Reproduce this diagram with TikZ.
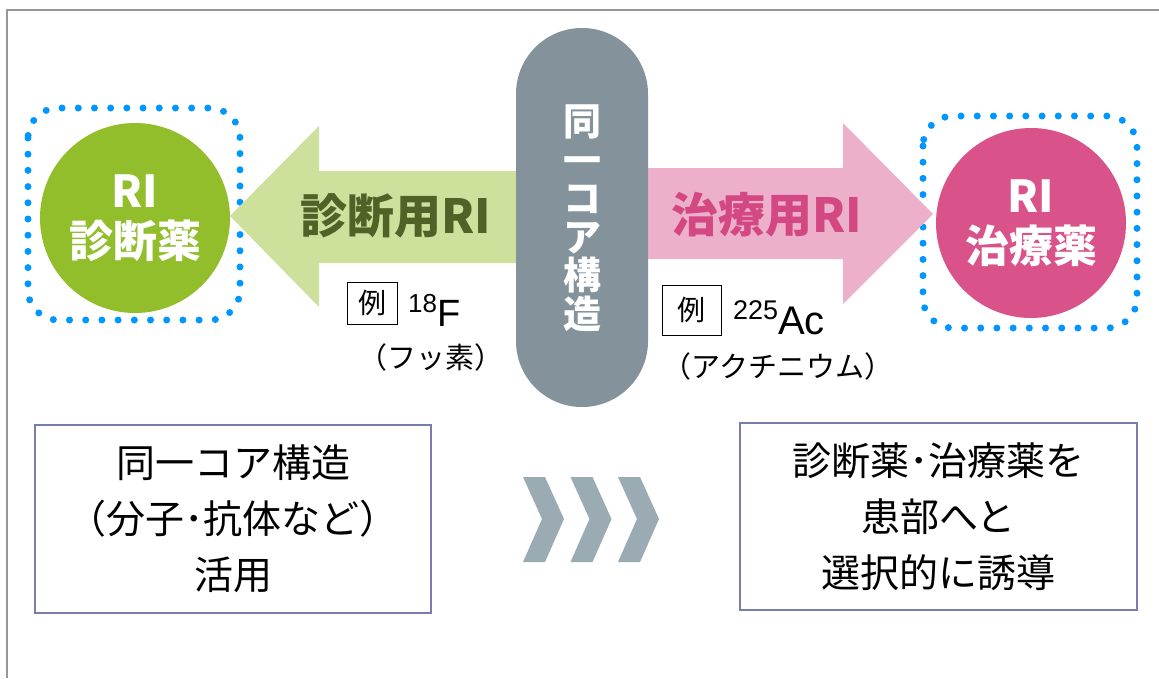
\documentclass[tikz,border=0pt]{standalone}
\usepackage{fontspec}
\setmainfont{Liberation Sans}
\newfontfamily\jp{Noto Sans CJK JP}
\definecolor{dotblue}{RGB}{0,150,255}
\definecolor{gcirc}{RGB}{146,190,44}
\definecolor{garrow}{RGB}{205,224,156}
\definecolor{gtext}{RGB}{79,98,40}
\definecolor{pcirc}{RGB}{218,82,138}
\definecolor{parrow}{RGB}{236,176,202}
\definecolor{ptext}{RGB}{212,72,130}
\definecolor{pillc}{RGB}{132,147,155}
\definecolor{chevc}{RGB}{154,171,179}
\definecolor{boxc}{RGB}{120,125,170}
\definecolor{framec}{RGB}{150,150,150}
\tikzset{
  dotframe/.style={draw=dotblue,line width=7pt,line cap=round,dash pattern=on 0pt off 16.2pt,rounded corners=30pt},
  bigcirc/.style={circle,minimum size=190pt,inner sep=0pt,text=white,font=\jp\bfseries\fontsize{44}{48}\selectfont,align=center},
  arrlabel/.style={font=\jp\bfseries\fontsize{47}{50}\selectfont},
  exbox/.style={draw=black,line width=1pt,minimum width=54pt,minimum height=44pt,inner sep=0pt,font=\jp\fontsize{28}{30}\selectfont},
  exnote/.style={font=\jp\fontsize{29}{31}\selectfont,inner sep=0pt},
  infobox/.style={draw=boxc,line width=1.5pt,inner sep=0pt,align=center,font=\jp\fontsize{39}{56}\selectfont},
  chev/.style={fill=chevc}
}
\begin{document}
\begin{tikzpicture}[x=1pt,y=-1pt]
\useasboundingbox (0,0) rectangle (1159,678);
\fill[white] (0,0) rectangle (1159,678);
\draw[framec,line width=1.2pt] (1159,10) -- (7,10) -- (7,678);
% dotted frames
\draw[dotframe] (28,108) rectangle (240,320);
\draw[dotframe] (923,116) rectangle (1137,328);
% arrows
\fill[garrow] (230,216) -- (319,126) -- (319,171) -- (540,171) -- (540,263) -- (319,263) -- (319,307) -- cycle;
\fill[parrow] (933,214) -- (843,123) -- (843,168) -- (630,168) -- (630,259) -- (843,259) -- (843,304) -- cycle;
% circles
\node[bigcirc,fill=gcirc] (diag) at (135,218) {RI\\[2pt]診断薬};
\node[bigcirc,fill=pcirc] (ther) at (1031,223) {RI\\[2pt]治療薬};
% pill
\fill[pillc,rounded corners=65.9pt] (516,28) rectangle (648,407);
\node[text=white,font=\jp\bfseries\fontsize{38}{38.5}\selectfont,align=center,inner sep=0pt] (core) at (582,218) {同\\一\\コ\\ア\\構\\造};
% arrow labels
\node[arrlabel,text=gtext] (dlab) at (396,216) {診断用RI};
\node[arrlabel,text=ptext] (tlab) at (767,215) {治療用RI};
% examples
\node[exbox,minimum width=50pt,minimum height=42pt] (ex1) at (372,303) {例};
\node[anchor=base west,inner sep=0pt,font=\fontsize{38}{40}\selectfont] (f18) at (408,326) {\raisebox{14pt}{\fontsize{26}{28}\selectfont 18}F};
\node[exnote] (fname) at (431,357) {（フッ素）};
\node[exbox,minimum width=59pt,minimum height=50pt] (ex2) at (691.5,310) {例};
\node[anchor=base west,inner sep=0pt,font=\fontsize{40}{42}\selectfont] (ac) at (733,334) {\raisebox{15pt}{\fontsize{27}{29}\selectfont 225}Ac};
\node[exnote] (acname) at (778,366) {（アクチニウム）};
% info boxes
\node[infobox,minimum width=396pt,minimum height=188pt] (box1) at (233,519) {同一コア構造\\（分子･抗体など）\\活用};
\node[infobox,minimum width=397pt,minimum height=187pt] (box2) at (938.5,516.5) {診断薬･治療薬を\\患部へと\\選択的に誘導};
% chevrons
\foreach \i in {0,1,2} {
  \fill[chev,xshift=\i*47.5pt] (523,477) -- (545,477) -- (564,519) -- (545,562) -- (523,562) -- (542,519) -- cycle;
}
\end{tikzpicture}
\end{document}
